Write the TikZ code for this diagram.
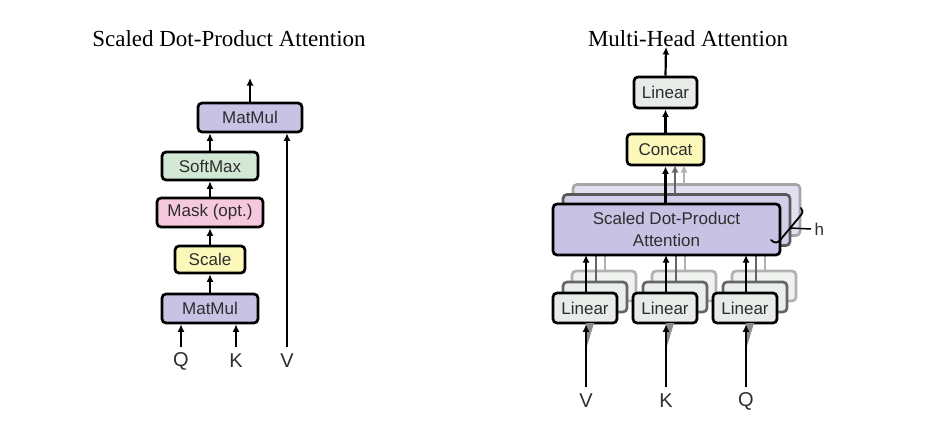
\documentclass[tikz,border=0pt]{standalone}
\usepackage{fontspec}
\setmainfont{Liberation Serif}
\setsansfont{Liberation Sans}
\usetikzlibrary{arrows.meta}
\definecolor{cpurple}{RGB}{200,194,228}
\definecolor{cpurpleB}{RGB}{210,205,232}
\definecolor{cpurpleC}{RGB}{226,223,241}
\definecolor{cgreen}{RGB}{210,232,212}
\definecolor{cpink}{RGB}{246,200,222}
\definecolor{cyellow}{RGB}{251,248,186}
\definecolor{cgray}{RGB}{232,236,232}
\definecolor{ctext}{RGB}{45,45,45}
\tikzset{
  blk/.style={draw=black, line width=2.7pt, rounded corners=4pt, font=\sffamily\fontsize{17}{20}\selectfont, text=ctext, inner sep=0pt, align=center},
  arr/.style={line width=2.2pt, -{Latex[length=7.5pt,width=7pt]}},
  lbl/.style={font=\sffamily\fontsize{20}{22}\selectfont, text=ctext},
  ttl/.style={font=\rmfamily\fontsize{23}{26}\selectfont},
}
\begin{document}
\begin{tikzpicture}[x=1pt,y=-1pt]
\useasboundingbox (0,0) rectangle (944,423);
% ---------- titles
\node[ttl] (t1) at (229,39) {Scaled Dot-Product Attention};
\node[ttl] (t2) at (688,39) {Multi-Head Attention};
% ---------- left diagram
\node[blk, fill=cpurple, minimum width=104pt, minimum height=29pt] (mm2) at (250,117.5) {MatMul};
\node[blk, fill=cgreen, minimum width=96pt, minimum height=28pt] (sm) at (210,166) {SoftMax};
\node[blk, fill=cpink, minimum width=106pt, minimum height=29pt] (mask) at (210,212.5) {Mask (opt.)};
\node[blk, fill=cyellow, minimum width=70pt, minimum height=27pt] (scale) at (210,259.5) {Scale};
\node[blk, fill=cpurple, minimum width=96pt, minimum height=29pt] (mm1) at (210,308.5) {MatMul};
\node[lbl] (q1) at (181,361) {Q};
\node[lbl] (k1) at (236,361) {K};
\node[lbl] (v1) at (287,361) {V};
\coordinate (q1s) at (181,347);
\coordinate (k1s) at (236,347);
\coordinate (v1s) at (287,347);
\coordinate (out1) at (250,78);
\draw[arr] (q1s) -- (q1s |- mm1.south);
\draw[arr] (k1s) -- (k1s |- mm1.south);
\draw[arr] (v1s) -- (v1s |- mm2.south);
\draw[arr] (mm1.north) -- (scale.south);
\draw[arr] (scale.north) -- (mask.south);
\draw[arr] (mask.north) -- (sm.south);
\draw[arr] (sm.north) -- (sm.north |- mm2.south);
\draw[arr] (mm2.north) -- (out1);
% ---------- right diagram
% back copies of attention
\node[blk, draw=black!35, fill=cpurpleC, minimum width=227pt, minimum height=51pt] (sdpa3) at (686.5,210) {};
\node[blk, draw=black!65, fill=cpurpleB, minimum width=227pt, minimum height=51pt] (sdpa2) at (676.5,220) {};
% linear copies
\foreach \cx/\nm in {585/a,665/b,745/c}{
  \node[blk, draw=black!30, fill=cgray!70, minimum width=64pt, minimum height=30pt] (lin3\nm) at (\cx+19,286) {};
  \node[blk, draw=black!60, fill=cgray!85, minimum width=64pt, minimum height=30pt] (lin2\nm) at (\cx+10,297) {};
}
% gray connectors from copies
\foreach \nm in {a,b,c}{
  \draw[line width=2.2pt, black!30] (lin3\nm.north) ++(1,0) -- ++(0,-16);
  \draw[line width=2.2pt, black!60] (lin2\nm.north) ++(1,0) -- ++(0,-26);
}
\node[blk, fill=cpurple, minimum width=227pt, minimum height=51pt] (sdpa) at (666.5,229.5) {Scaled Dot-Product\\[2pt]Attention};
\node[blk, fill=cgray, minimum width=64pt, minimum height=30pt] (lina) at (585,308) {Linear};
\node[blk, fill=cgray, minimum width=64pt, minimum height=30pt] (linb) at (665,308) {Linear};
\node[blk, fill=cgray, minimum width=64pt, minimum height=30pt] (linc) at (745,308) {Linear};
\node[blk, fill=cyellow, minimum width=77pt, minimum height=31pt] (concat) at (665.5,149.5) {Concat};
\node[blk, fill=cgray, minimum width=63pt, minimum height=31pt] (lint) at (665.5,92.5) {Linear};
\node[lbl] (v2) at (586,401) {V};
\node[lbl] (k2) at (666,401) {K};
\node[lbl] (q2) at (746,401) {Q};
\coordinate (v2s) at (586,387);
\coordinate (k2s) at (666,387);
\coordinate (q2s) at (746,387);
\coordinate (out2) at (666,47);
% faint shadow wedges under input arrows
\foreach \x in {586,666,746}{
  \fill[black!45] (\x,323) -- (\x+8,323) -- (\x+1,346) -- cycle;
}
\draw[arr] (v2s) -- (v2s |- lina.south);
\draw[arr] (k2s) -- (k2s |- linb.south);
\draw[arr] (q2s) -- (q2s |- linc.south);
\draw[arr] (586,293) -- (586,255);
\draw[arr] (666,293) -- (666,255);
\draw[arr] (746,293) -- (746,255);
\draw[arr] (sdpa.north -| concat.south) -- (concat.south);
\draw[arr, black!60] (675,194) -- (675,165);
\draw[arr, black!30] (684,184) -- (684,165);
\draw[arr] (concat.north) -- (lint.south);
\draw[arr] (lint.north) -- (out2);
% h brace
\coordinate (hb1) at (771,240);
\coordinate (hb2) at (801,208);
\draw[line width=1.8pt, line cap=round] (hb1) .. controls (775,244) and (778,243) .. (781,239) -- (801,215) .. controls (803,212) and (803,210) .. (hb2);
\node[lbl, font=\sffamily\fontsize{17}{19}\selectfont, anchor=west] (hl) at (811,229) {h};
\draw[line width=1.5pt] (790,228) -- (hl.west);
\end{tikzpicture}
\end{document}
